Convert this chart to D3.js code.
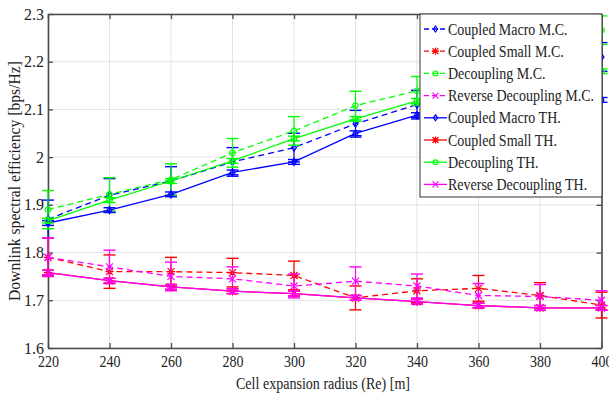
<!DOCTYPE html>
<html>
<head>
<meta charset="utf-8">
<script src="https://cdn.jsdelivr.net/npm/d3@7"></script>
<style>
  html, body { margin: 0; padding: 0; background: #fff; }
</style>
</head>
<body>
<div id="chart"></div>
<script>
/* ---- data ---- */
const radius = [220, 240, 260, 280, 300, 320, 340, 360, 380, 400];
const xTicks = [220, 240, 260, 280, 300, 320, 340, 360, 380, 400];
const yTicks = [1.6, 1.7, 1.8, 1.9, 2.0, 2.1, 2.2, 2.3];

const macroMC   = [1.87, 1.92, 1.95, 1.99, 2.02, 2.07, 2.11, 2.14, 2.17, 2.21];
const smallMC   = [1.79, 1.76, 1.76, 1.758, 1.752, 1.705, 1.72, 1.725, 1.71, 1.69];
const decMC     = [1.89, 1.922, 1.953, 2.009, 2.055, 2.108, 2.139, 2.18, 2.22, 2.266];
const revMC     = [1.79, 1.77, 1.75, 1.745, 1.73, 1.74, 1.73, 1.71, 1.708, 1.70];
const macroTH   = [1.862, 1.889, 1.922, 1.968, 1.99, 2.05, 2.088, 2.10, 2.11, 2.12];
const smallTH   = [1.758, 1.741, 1.728, 1.719, 1.714, 1.705, 1.697, 1.689, 1.684, 1.684];
const decTH     = [1.867, 1.91, 1.95, 1.992, 2.039, 2.08, 2.118, 2.14, 2.16, 2.18];
const revTH     = [1.758, 1.741, 1.728, 1.719, 1.714, 1.705, 1.697, 1.689, 1.684, 1.684];

const macroMCErr = [0.04, 0.035, 0.03, 0.03, 0.03, 0.028, 0.03, 0.03, 0.03, 0.03];
const smallMCErr = [0.04, 0.035, 0.03, 0.03, 0.03, 0.025, 0.025, 0.027, 0.027, 0.027];
const decMCErr   = [0.04, 0.035, 0.033, 0.03, 0.03, 0.03, 0.03, 0.03, 0.03, 0.03];
const revMCErr   = [0.04, 0.035, 0.03, 0.025, 0.025, 0.03, 0.025, 0.025, 0.025, 0.02];
const thErr      = [0.005, 0.005, 0.005, 0.005, 0.005, 0.005, 0.005, 0.005, 0.005, 0.005];

const seriesNames = ['Coupled Macro M.C.', 'Coupled Small M.C.', 'Decoupling M.C.', 'Reverse Decoupling M.C.',
                     'Coupled Macro TH.', 'Coupled Small TH.', 'Decoupling TH.', 'Reverse Decoupling TH.'];

const series = [
  {name: seriesNames[0], values: macroMC, err: macroMCErr, color: '#0000ff', marker: 'diamond',  dash: true},
  {name: seriesNames[1], values: smallMC, err: smallMCErr, color: '#ff0000', marker: 'asterisk', dash: true},
  {name: seriesNames[2], values: decMC,   err: decMCErr,   color: '#00ff00', marker: 'circle',   dash: true},
  {name: seriesNames[3], values: revMC,   err: revMCErr,   color: '#ff00ff', marker: 'cross',    dash: true},
  {name: seriesNames[4], values: macroTH, err: thErr,      color: '#0000ff', marker: 'diamond',  dash: false},
  {name: seriesNames[5], values: smallTH, err: thErr,      color: '#ff0000', marker: 'asterisk', dash: false},
  {name: seriesNames[6], values: decTH,   err: thErr,      color: '#00ff00', marker: 'circle',   dash: false},
  {name: seriesNames[7], values: revTH,   err: thErr,      color: '#ff00ff', marker: 'cross',    dash: false}
];

/* ---- layout ---- */
const W = 609, H = 401;
const m = {left: 48, right: 7.5, top: 14, bottom: 53};
const pw = W - m.left - m.right, ph = H - m.top - m.bottom;
const SERIF = "'Liberation Serif', 'Times New Roman', 'DejaVu Serif', serif";

const svg = d3.select('#chart').append('svg').attr('width', W).attr('height', H)
  .attr('font-family', SERIF);
const g = svg.append('g').attr('transform', `translate(${m.left},${m.top})`);

const x = d3.scaleLinear().domain([220, 400]).range([0, pw]);
const y = d3.scaleLinear().domain([1.6, 2.3]).range([ph, 0]);

/* squeeze a text horizontally so it is no wider than w */
function fitWidth(t, w) {
  const n = t.node(), len = n.getComputedTextLength();
  if (len > w) {
    t.attr('textLength', w).attr('lengthAdjust', 'spacingAndGlyphs');
  }
}

/* grid */
g.append('g').selectAll('line').data(xTicks).join('line')
  .attr('x1', d => x(d)).attr('x2', d => x(d)).attr('y1', 0).attr('y2', ph)
  .attr('stroke', '#e3e3e3').attr('stroke-width', 1);
g.append('g').selectAll('line').data(yTicks).join('line')
  .attr('x1', 0).attr('x2', pw).attr('y1', d => y(d)).attr('y2', d => y(d))
  .attr('stroke', '#e3e3e3').attr('stroke-width', 1);

/* axes (box style, inward ticks) */
const axCol = '#4a4a4a';
const fmtY = d => (Math.abs(d - 2) < 1e-9 ? '2' : d3.format('.1f')(d));
const xAxis = g.append('g').attr('transform', `translate(0,${ph})`)
  .call(d3.axisBottom(x).tickValues(xTicks).tickSizeInner(-5).tickSizeOuter(0).tickPadding(8).tickFormat(d3.format('d')));
const yAxis = g.append('g')
  .call(d3.axisLeft(y).tickValues(yTicks).tickSizeInner(-5).tickSizeOuter(0).tickPadding(6).tickFormat(fmtY));
const xTop = g.append('g')
  .call(d3.axisTop(x).tickValues(xTicks).tickSizeInner(-5).tickSizeOuter(0).tickFormat(''));
const yRight = g.append('g').attr('transform', `translate(${pw},0)`)
  .call(d3.axisRight(y).tickValues(yTicks).tickSizeInner(-5).tickSizeOuter(0).tickFormat(''));
[xAxis, yAxis, xTop, yRight].forEach(a => {
  a.attr('font-family', SERIF).attr('font-size', 16);
  a.select('.domain').attr('stroke', axCol).attr('stroke-width', 1.6);
  a.selectAll('.tick line').attr('stroke', axCol).attr('stroke-width', 1.3);
  a.selectAll('.tick text').attr('fill', '#222');
});
xAxis.selectAll('.tick text').each(function () { fitWidth(d3.select(this), 21); });
yAxis.selectAll('.tick text').attr('dx', 2).each(function () { fitWidth(d3.select(this), 20); });

/* axis labels */
const xl = svg.append('text').attr('x', 236).attr('y', 389)
  .attr('font-size', 16).attr('fill', '#222').text('Cell expansion radius (Re) [m]');
fitWidth(xl, 174);
const yl = svg.append('text').attr('transform', `translate(20,${m.top + ph / 2 + 120}) rotate(-90)`)
  .attr('font-size', 16).attr('fill', '#222').text('Downlink spectral efficiency [bps/Hz]');
fitWidth(yl, 240);

/* markers */
function drawMarker(sel, type, color, cx, cy, s) {
  const mk = sel.append('g').attr('transform', `translate(${cx},${cy})`)
    .attr('fill', 'none').attr('stroke', color).attr('stroke-width', 1.2);
  if (type === 'diamond') {
    mk.append('path').attr('d', `M0,${-s} L${s * 0.7},0 L0,${s} L${-s * 0.7},0 Z`);
  } else if (type === 'circle') {
    mk.append('circle').attr('r', s * 0.8);
  } else if (type === 'cross') {
    mk.append('path').attr('d', `M${-s},${-s} L${s},${s} M${-s},${s} L${s},${-s}`);
  } else {
    mk.append('path').attr('d', `M${-s},${-s} L${s},${s} M${-s},${s} L${s},${-s} M0,${-s * 1.2} L0,${s * 1.2} M${-s * 1.2},0 L${s * 1.2},0`);
  }
}

/* series */
const line = d3.line().x((d, i) => x(radius[i])).y(d => y(d));
const plot = svg.append('g').attr('transform', `translate(${m.left},${m.top})`);
series.forEach(s => {
  const sg = plot.append('g');
  // error bars
  const cap = 6;
  s.values.forEach((v, i) => {
    const cx = x(radius[i]), y1 = y(v + s.err[i]), y2 = y(v - s.err[i]);
    sg.append('line').attr('x1', cx).attr('x2', cx).attr('y1', y1).attr('y2', y2)
      .attr('stroke', s.color).attr('stroke-width', 1.2);
    [y1, y2].forEach(yy => sg.append('line').attr('x1', cx - cap).attr('x2', cx + cap).attr('y1', yy).attr('y2', yy)
      .attr('stroke', s.color).attr('stroke-width', 1.4));
  });
  sg.append('path').datum(s.values).attr('d', line)
    .attr('fill', 'none').attr('stroke', s.color).attr('stroke-width', 1.3)
    .attr('stroke-dasharray', s.dash ? '6,4' : null);
  s.values.forEach((v, i) => drawMarker(sg, s.marker, s.color, x(radius[i]), y(v), 3.5));
});

/* legend */
const lg = svg.append('g').attr('transform', 'translate(420,14)');
lg.append('rect').attr('width', 182).attr('height', 183).attr('fill', '#fff')
  .attr('stroke', '#333').attr('stroke-width', 1);
const legendTexts = [];
series.forEach((s, i) => {
  const yy = 15 + i * 22.2;
  lg.append('line').attr('x1', 4).attr('x2', 27).attr('y1', yy).attr('y2', yy)
    .attr('stroke', s.color).attr('stroke-width', 1.3).attr('stroke-dasharray', s.dash ? '5,3' : null);
  drawMarker(lg, s.marker, s.color, 15.5, yy, 3);
  legendTexts.push(lg.append('text').attr('x', 28).attr('y', yy).attr('dy', '0.35em')
    .attr('font-size', 16).attr('fill', '#222').text(s.name));
});
// squeeze all legend labels by the same factor so the longest fits the box
const longest = d3.max(legendTexts, t => t.node().getComputedTextLength());
const k = Math.min(1, 146 / longest);
legendTexts.forEach(t => {
  const len = t.node().getComputedTextLength();
  if (k < 1) t.attr('textLength', len * k).attr('lengthAdjust', 'spacingAndGlyphs');
});
</script>
</body>
</html>
